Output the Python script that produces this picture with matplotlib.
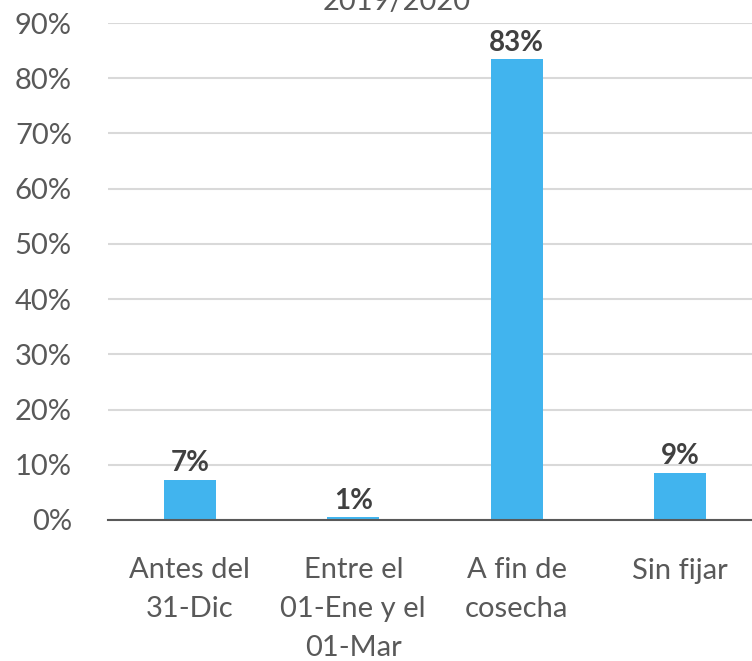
from matplotlib import pyplot as plt
from matplotlib.ticker import FuncFormatter

categories = ['Antes del\n31-Dic', 'Entre el\n01-Ene y el\n01-Mar', 'A fin de\ncosecha', 'Sin fijar']
values = [7.3, 0.5, 83.4, 8.6]          # percent
labels = ['7%', '1%', '83%', '9%']
title = '2019/2020'

plt.rcParams['font.family'] = ['Lato', 'DejaVu Sans']
txt = '#595959'

fig = plt.figure(figsize=(7.52, 6.61), dpi=100)
# axes runs a bit past the right edge, like the cropped original
ax = fig.add_axes([108/752, 1 - 520/661, 654/752, (520 - 23)/661])

x = range(len(categories))
bars = ax.bar(x, values, width=0.32, color='#41B4EE', zorder=3)

for b, lab in zip(bars, labels):
    ax.text(b.get_x() + b.get_width()/2, b.get_height() + 0.6, lab,
            ha='center', va='bottom', fontsize=20, fontweight='bold', color='#404040')

ax.set_xlim(-0.5, 3.5)
ax.set_ylim(0, 90)
ax.set_yticks(range(0, 91, 10))
ax.yaxis.set_major_formatter(FuncFormatter(lambda v, p: '%d%%' % v))
ax.set_xticks(list(x))
ax.set_xticklabels(categories, linespacing=1.6)
ax.tick_params(axis='both', length=0, labelsize=21, colors=txt)
ax.tick_params(axis='x', pad=27)
ax.tick_params(axis='y', pad=26)

ax.grid(axis='y', color='#D9D9D9', linewidth=1.5, zorder=0)
for s in ['top', 'right', 'left']:
    ax.spines[s].set_visible(False)
ax.spines['bottom'].set_color('#595959')
ax.spines['bottom'].set_linewidth(1.5)
ax.spines['bottom'].set_zorder(4)

fig.text(397/752, 1 - 10/661, title, ha='center', va='baseline', fontsize=21, color=txt)

fig.savefig('out.png', dpi=100)
